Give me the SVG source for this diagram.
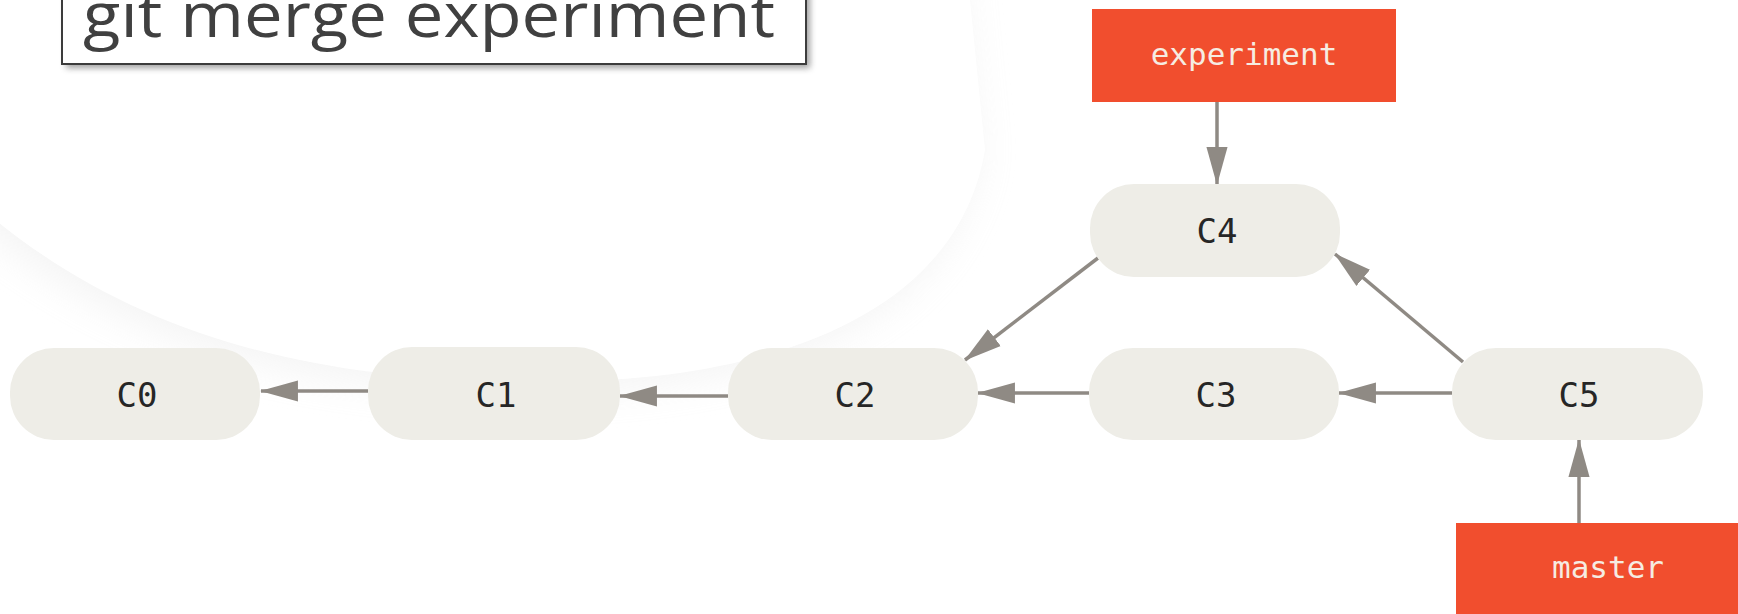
<svg xmlns="http://www.w3.org/2000/svg" width="1738" height="614" viewBox="0 0 1738 614">
  <defs>
    <style>
      .commit rect { fill: #eeede7; }
      .commit text { font-family: "DejaVu Sans Mono", "Liberation Mono", monospace; font-size: 34px; fill: #262626; text-anchor: middle; }
      .branch rect { fill: #f14e2e; }
      .branch text { font-family: "DejaVu Sans Mono", "Liberation Mono", monospace; font-size: 31px; fill: #f6ece2; text-anchor: middle; }
      .edge { stroke: #8f8a84; stroke-width: 3.5; fill: none; marker-end: url(#arrow); }
      .title-text { font-family: "Open Sans", "Noto Sans", "Liberation Sans", sans-serif; font-size: 62px; fill: #404040; }
    </style>
    <marker id="arrow" markerUnits="userSpaceOnUse" markerWidth="38" markerHeight="22" viewBox="0 0 36 20" refX="35" refY="10" orient="auto">
      <path d="M0,0 L36,10 L0,20 Z" fill="#8f8a84"/>
    </marker>
    <filter id="bgShadow" x="-20%" y="-20%" width="140%" height="140%">
      <feGaussianBlur stdDeviation="20"/>
    </filter>
    <filter id="boxShadow" x="-10%" y="-50%" width="120%" height="200%">
      <feGaussianBlur stdDeviation="3"/>
    </filter>
  </defs>

  <rect x="0" y="0" width="1738" height="614" fill="#ffffff"/>

  <g id="background">
    <path d="M-200,-100 L-200,120 L-60,170 C100,330 300,385 560,382 C800,378 960,300 985,150 L960,-100 Z" fill="#d9d9d9" opacity="0.3" transform="translate(-8,8)" filter="url(#bgShadow)"/>
    <path d="M-200,-100 L-200,120 L-60,170 C100,330 300,385 560,382 C800,378 960,300 985,150 L960,-100 Z" fill="#ffffff"/>
  </g>

  <g id="title">
    <rect x="66" y="-10" width="744" height="78" fill="#777777" opacity="0.7" filter="url(#boxShadow)"/>
    <rect x="62" y="-10" width="744" height="74" fill="#ffffff" stroke="#3c3c3c" stroke-width="2"/>
    <text class="title-text" x="83" y="37" textLength="692" lengthAdjust="spacingAndGlyphs">git merge experiment</text>
  </g>

  <g id="connectors">
    <path class="edge" d="M1217,102 L1217,184"/>
    <path class="edge" d="M1098,258 L965,360"/>
    <path class="edge" d="M1463,362 L1335,254"/>
    <path class="edge" d="M1452,393 L1339,393"/>
    <path class="edge" d="M1089,393 L978,393"/>
    <path class="edge" d="M728,396 L620,396"/>
    <path class="edge" d="M368,391 L261,391"/>
    <path class="edge" d="M1579,523 L1579,440"/>
  </g>

  <g id="C0" class="commit">
    <rect x="10" y="348" width="250" height="92" rx="44" ry="44"/>
    <text x="137" y="407">C0</text>
  </g>
  <g id="C1" class="commit">
    <rect x="368" y="347" width="252" height="93" rx="44" ry="44"/>
    <text x="496" y="407">C1</text>
  </g>
  <g id="C2" class="commit">
    <rect x="728" y="348" width="250" height="92" rx="44" ry="44"/>
    <text x="855" y="407">C2</text>
  </g>
  <g id="C3" class="commit">
    <rect x="1089" y="348" width="250" height="92" rx="44" ry="44"/>
    <text x="1216" y="407">C3</text>
  </g>
  <g id="C4" class="commit">
    <rect x="1090" y="184" width="250" height="93" rx="44" ry="44"/>
    <text x="1217" y="243">C4</text>
  </g>
  <g id="C5" class="commit">
    <rect x="1452" y="348" width="251" height="92" rx="44" ry="44"/>
    <text x="1579" y="407">C5</text>
  </g>

  <g id="experiment" class="branch">
    <rect x="1092" y="9" width="304" height="93"/>
    <text x="1244" y="65">experiment</text>
  </g>
  <g id="master" class="branch">
    <rect x="1456" y="523" width="304" height="94"/>
    <text x="1608" y="578">master</text>
  </g>
</svg>
